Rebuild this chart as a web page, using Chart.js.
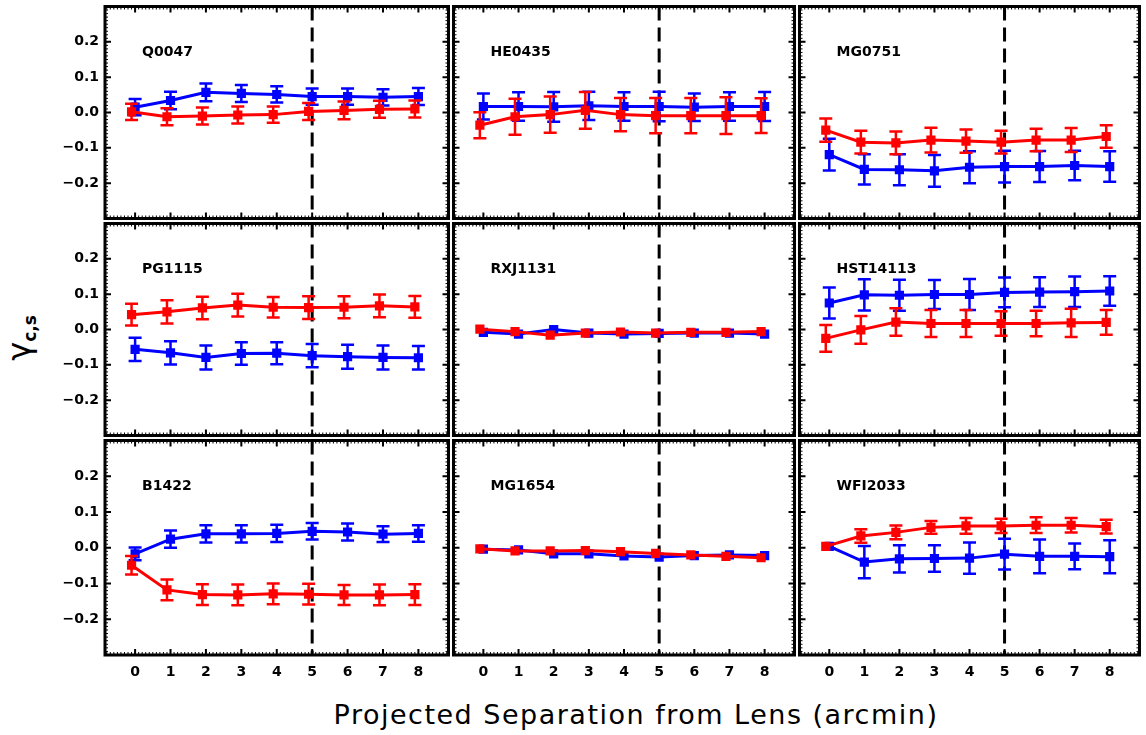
<!DOCTYPE html>
<html>
<head>
<meta charset="utf-8">
<script src="https://cdn.jsdelivr.net/npm/chart.js@4.4.0/dist/chart.umd.min.js"></script>
<style>
  html, body { margin: 0; padding: 0; background: #fff; }
  #wrap { position: relative; width: 1146px; height: 735px; overflow: hidden; }
  #wrap canvas { position: absolute; }
  .xtitle { position: absolute; left: 636px; top: 701px; transform: translateX(-50%); font-family: 'DejaVu Sans'; font-size: 27px; line-height: 27px; letter-spacing: 1.5px; white-space: nowrap; color: #000; }
  .ytitle { position: absolute; left: 24px; top: 338px; transform: translate(-50%, -50%) rotate(-90deg); font-family: 'DejaVu Sans'; font-size: 32px; line-height: 32px; white-space: nowrap; color: #000; }
  .ytitle sub { font-size: 17px; font-weight: bold; vertical-align: -6px; }
</style>
</head>
<body>
<div id="wrap">
  <div class="ytitle">γ<sub>c,s</sub></div>
  <div class="xtitle">Projected Separation from Lens (arcmin)</div>
</div>
<script>
const lensNames = ['Q0047', 'HE0435', 'MG0751', 'PG1115', 'RXJ1131', 'HST14113', 'B1422', 'MG1654', 'WFI2033'];
const separation = [0, 1, 2, 3, 4, 5, 6, 7, 8];
const xTicks = [0, 1, 2, 3, 4, 5, 6, 7, 8];
const yTicks = [-0.2, -0.1, 0.0, 0.1, 0.2];
const cutoff = 5;

// blue series (one row per lens)
const blueGamma = [
    [0.015, 0.034, 0.057, 0.054, 0.051, 0.045, 0.045, 0.043, 0.045],
    [0.017, 0.017, 0.016, 0.019, 0.017, 0.017, 0.015, 0.017, 0.017],
    [-0.119, -0.161, -0.162, -0.165, -0.155, -0.153, -0.153, -0.150, -0.153],
    [-0.056, -0.066, -0.079, -0.068, -0.067, -0.074, -0.077, -0.079, -0.080],
    [-0.008, -0.013, 0.000, -0.010, -0.013, -0.011, -0.010, -0.010, -0.013],
    [0.075, 0.098, 0.097, 0.099, 0.099, 0.105, 0.106, 0.107, 0.109],
    [-0.017, 0.024, 0.039, 0.039, 0.040, 0.046, 0.044, 0.038, 0.040],
    [-0.004, -0.006, -0.017, -0.017, -0.023, -0.026, -0.022, -0.020, -0.022],
    [0.004, -0.040, -0.031, -0.030, -0.029, -0.018, -0.024, -0.024, -0.025]
];
const blueError = [
    [0.023, 0.025, 0.025, 0.024, 0.023, 0.023, 0.023, 0.023, 0.024],
    [0.037, 0.040, 0.042, 0.040, 0.040, 0.042, 0.039, 0.040, 0.041],
    [0.045, 0.043, 0.044, 0.045, 0.045, 0.045, 0.044, 0.042, 0.043],
    [0.033, 0.033, 0.034, 0.032, 0.031, 0.033, 0.034, 0.034, 0.033],
    [0, 0, 0, 0, 0, 0, 0, 0, 0],
    [0.044, 0.044, 0.044, 0.041, 0.044, 0.042, 0.042, 0.043, 0.042],
    [0.018, 0.024, 0.024, 0.024, 0.024, 0.023, 0.024, 0.022, 0.023],
    [0, 0, 0, 0, 0, 0, 0, 0, 0],
    [0.007, 0.045, 0.038, 0.037, 0.044, 0.043, 0.047, 0.036, 0.046]
];

// red series
const redGamma = [
    [0.002, -0.012, -0.010, -0.007, -0.006, 0.003, 0.006, 0.009, 0.010],
    [-0.036, -0.012, -0.006, 0.006, -0.006, -0.009, -0.009, -0.009, -0.009],
    [-0.050, -0.084, -0.086, -0.078, -0.081, -0.084, -0.078, -0.078, -0.068],
    [0.042, 0.050, 0.061, 0.069, 0.063, 0.062, 0.063, 0.067, 0.064],
    [0.001, -0.006, -0.016, -0.010, -0.007, -0.010, -0.008, -0.008, -0.006],
    [-0.025, -0.001, 0.021, 0.017, 0.017, 0.017, 0.017, 0.019, 0.020],
    [-0.049, -0.118, -0.131, -0.132, -0.129, -0.130, -0.132, -0.132, -0.131],
    [-0.003, -0.009, -0.009, -0.008, -0.011, -0.016, -0.020, -0.024, -0.028],
    [0.004, 0.033, 0.043, 0.057, 0.061, 0.061, 0.063, 0.063, 0.059]
];
const redError = [
    [0.023, 0.024, 0.024, 0.024, 0.023, 0.024, 0.025, 0.024, 0.024],
    [0.037, 0.051, 0.051, 0.052, 0.047, 0.050, 0.050, 0.052, 0.049],
    [0.033, 0.032, 0.032, 0.035, 0.033, 0.032, 0.032, 0.034, 0.032],
    [0.031, 0.033, 0.032, 0.032, 0.029, 0.032, 0.031, 0.032, 0.031],
    [0, 0, 0, 0, 0, 0, 0, 0, 0],
    [0.038, 0.039, 0.039, 0.038, 0.038, 0.035, 0.036, 0.040, 0.035],
    [0.026, 0.029, 0.029, 0.029, 0.029, 0.029, 0.028, 0.029, 0.029],
    [0, 0, 0, 0, 0, 0, 0, 0, 0],
    [0, 0.019, 0.019, 0.018, 0.022, 0.020, 0.022, 0.020, 0.019]
];

const BLUE = '#0000ff';
const RED = '#ff0000';
const TICK_FONT = { family: 'DejaVu Sans', size: 14, weight: 'bold' };

// panel grid (page pixels)
const colLeft = [105, 451, 797];
const colRight = [451, 797, 1142];
const rowTop = [4, 221, 438];
const rowBottom = [221, 438, 655];
const M = 4;

// error bars, frame, ticks and lens name
const panelDecor = {
    id: 'panelDecor',
    afterDatasetDraw(chart, args) {
        const ds = chart.data.datasets[args.index];
        if (!ds.errors) return;
        const {ctx} = chart;
        const x = chart.scales.x, y = chart.scales.y;
        ctx.save();
        ctx.strokeStyle = ds.borderColor;
        ctx.lineWidth = 2.5;
        ds.data.forEach((p, i) => {
            const e = ds.errors[i];
            if (!e) return;
            const px = x.getPixelForValue(p.x);
            const top = y.getPixelForValue(p.y + e);
            const bot = y.getPixelForValue(p.y - e);
            ctx.beginPath();
            ctx.moveTo(px, top); ctx.lineTo(px, bot);
            ctx.moveTo(px - 6.5, top); ctx.lineTo(px + 6.5, top);
            ctx.moveTo(px - 6.5, bot); ctx.lineTo(px + 6.5, bot);
            ctx.stroke();
        });
        ctx.restore();
    },
    afterDraw(chart, args, opts) {
        const {ctx, chartArea: a} = chart;
        const x = chart.scales.x, y = chart.scales.y;
        ctx.save();
        ctx.strokeStyle = '#000';

        // minor ticks
        ctx.lineWidth = 1;
        ctx.beginPath();
        for (let k = -8; k <= 88; k++) {
            const px = x.getPixelForValue(k / 10);
            ctx.moveTo(px, a.bottom); ctx.lineTo(px, a.bottom - 3);
            ctx.moveTo(px, a.top); ctx.lineTo(px, a.top + 3);
        }
        for (let k = -29; k <= 29; k++) {
            const py = y.getPixelForValue(k / 100);
            ctx.moveTo(a.left, py); ctx.lineTo(a.left + 3, py);
            ctx.moveTo(a.right, py); ctx.lineTo(a.right - 3, py);
        }
        ctx.stroke();

        // major ticks
        ctx.lineWidth = 2;
        ctx.beginPath();
        xTicks.forEach(v => {
            const px = x.getPixelForValue(v);
            ctx.moveTo(px, a.bottom); ctx.lineTo(px, a.bottom - 6);
            ctx.moveTo(px, a.top); ctx.lineTo(px, a.top + 6);
        });
        yTicks.forEach(v => {
            const py = y.getPixelForValue(v);
            ctx.moveTo(a.left, py); ctx.lineTo(a.left + 6, py);
            ctx.moveTo(a.right, py); ctx.lineTo(a.right - 6, py);
        });
        ctx.stroke();

        // frame
        ctx.lineWidth = 3;
        ctx.strokeRect(a.left, a.top, a.right - a.left, a.bottom - a.top);

        // lens name
        ctx.fillStyle = '#000';
        ctx.font = 'bold 14px "DejaVu Sans"';
        ctx.textBaseline = 'alphabetic';
        ctx.fillText(opts.name, a.left + 37, a.top + 49);
        ctx.restore();
    }
};

const wrap = document.getElementById('wrap');

lensNames.forEach((name, i) => {
    const c = i % 3;
    const r = Math.floor(i / 3);
    const left = c === 0 ? 0 : colLeft[c] - M;
    const top = rowTop[r] - M;
    const width = colRight[c] + M - left;
    const height = rowBottom[r] + (r === 2 ? 35 : M) - top;
    const axisLeft = c === 0 ? 105 : 0;
    const axisBottom = r === 2 ? 35 : 0;

    const canvas = document.createElement('canvas');
    canvas.width = width;
    canvas.height = height;
    canvas.style.left = left + 'px';
    canvas.style.top = top + 'px';
    canvas.style.width = width + 'px';
    canvas.style.height = height + 'px';
    wrap.appendChild(canvas);

    new Chart(canvas, {
        type: 'line',
        data: {
            datasets: [
                {
                    label: 'red',
                    data: separation.map((s, j) => ({x: s - 0.1, y: redGamma[i][j]})),
                    errors: redError[i],
                    borderColor: RED,
                    backgroundColor: RED,
                    borderWidth: 3,
                    pointStyle: 'rect',
                    pointRadius: 6.5,
                    pointBorderWidth: 0,
                    order: 1
                },
                {
                    label: 'blue',
                    data: separation.map((s, j) => ({x: s, y: blueGamma[i][j]})),
                    errors: blueError[i],
                    borderColor: BLUE,
                    backgroundColor: BLUE,
                    borderWidth: 3,
                    pointStyle: 'rect',
                    pointRadius: 6.5,
                    pointBorderWidth: 0,
                    order: 2
                },
                {
                    label: 'cutoff',
                    data: [{x: cutoff, y: 0.3}, {x: cutoff, y: -0.3}],
                    borderColor: '#000',
                    borderWidth: 3,
                    borderDash: [14, 7],
                    pointRadius: 0,
                    order: 3
                }
            ]
        },
        options: {
            responsive: false,
            animation: false,
            devicePixelRatio: 1,
            layout: {
                padding: {left: c === 0 ? 0 : M, right: M, top: M, bottom: r === 2 ? 0 : M}
            },
            plugins: {
                legend: {display: false},
                tooltip: {enabled: false},
                panelDecor: {name: name}
            },
            scales: {
                x: {
                    type: 'linear',
                    min: -0.85,
                    max: 8.85,
                    display: r === 2,
                    grid: {display: false, drawTicks: false},
                    border: {display: false},
                    ticks: {
                        padding: 9,
                        color: '#000',
                        font: TICK_FONT,
                        autoSkip: false,
                        maxRotation: 0,
                        callback: v => String(v)
                    },
                    afterBuildTicks: s => { s.ticks = xTicks.map(v => ({value: v})); },
                    afterFit: s => { s.height = axisBottom; s.paddingLeft = 0; s.paddingRight = 0; }
                },
                y: {
                    min: -0.3,
                    max: 0.3,
                    display: c === 0,
                    grid: {display: false, drawTicks: false},
                    border: {display: false},
                    ticks: {
                        padding: 6,
                        color: '#000',
                        font: TICK_FONT,
                        autoSkip: false,
                        callback: v => v.toFixed(1).replace('-', '\u2212')
                    },
                    afterBuildTicks: s => { s.ticks = yTicks.map(v => ({value: v})); },
                    afterFit: s => { s.width = axisLeft; s.paddingTop = 0; s.paddingBottom = 0; }
                }
            }
        },
        plugins: [panelDecor]
    });
});
</script>
</body>
</html>
